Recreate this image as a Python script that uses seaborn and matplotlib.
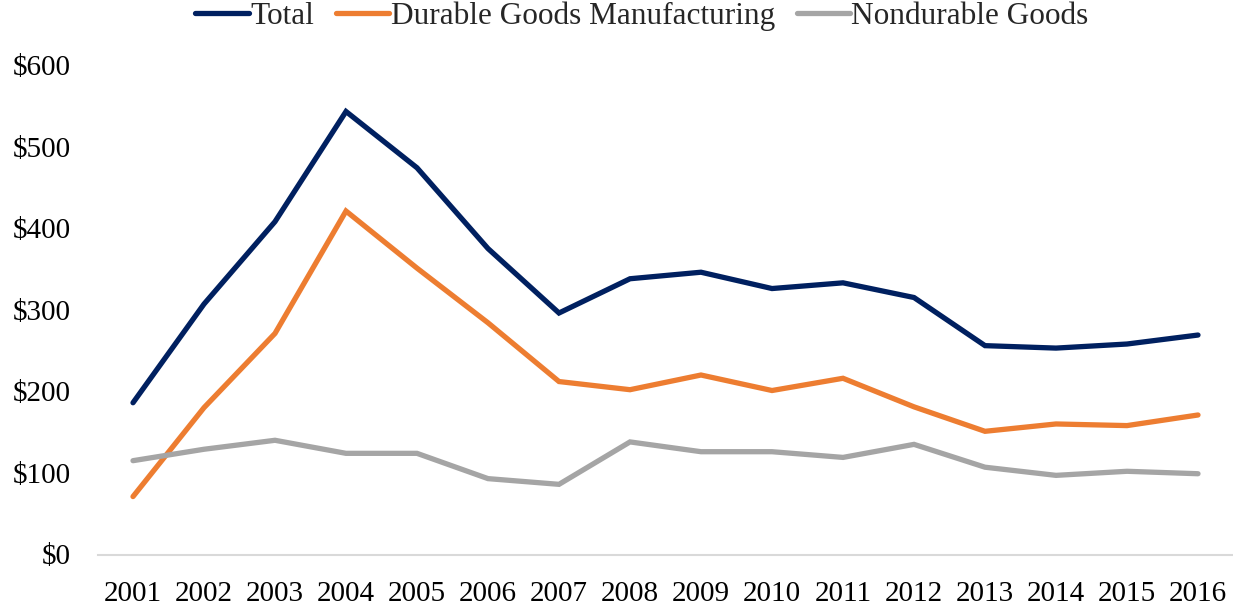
import matplotlib
matplotlib.use("Agg")
import matplotlib.pyplot as plt
import seaborn as sns
import pandas as pd

years = [str(y) for y in range(2001, 2017)]
total = [186, 307, 408, 543, 474, 375, 296, 338, 346, 326, 333, 315, 256, 253, 258, 269]
durable = [71, 180, 271, 421, 351, 284, 212, 202, 220, 201, 216, 181, 151, 160, 158, 171]
nondurable = [115, 129, 140, 124, 124, 93, 86, 138, 126, 126, 119, 135, 107, 97, 102, 99]
series_names = ["Total", "Durable Goods Manufacturing", "Nondurable Goods"]
y_ticks = [0, 100, 200, 300, 400, 500, 600]

frames = []
for name, vals in zip(series_names, [total, durable, nondurable]):
    frames.append(pd.DataFrame({"Year": years, "Value": vals, "Series": name}))
df = pd.concat(frames, ignore_index=True)

sns.set_theme(style="white")
plt.rcParams["font.family"] = ["Liberation Serif", "DejaVu Serif"]

W, H = 1233, 608
fig = plt.figure(figsize=(W / 100, H / 100), dpi=100)
ax = fig.add_axes([97.5 / W, (H - 554.5) / H, 1136 / W, (554.5 - 65) / H])

palette = {"Total": "#002060", "Durable Goods Manufacturing": "#ED7D31",
           "Nondurable Goods": "#A5A5A5"}
lw = 3.8
sns.lineplot(data=df, x="Year", y="Value", hue="Series", palette=palette,
             linewidth=lw, ax=ax, sort=False, legend=True)
for line in ax.get_lines():
    line.set_solid_capstyle("round")
    line.set_solid_joinstyle("miter")

ax.set_xlim(-0.5, 15.5)
ax.set_ylim(0, 600)
ax.set_yticks(y_ticks)
ax.set_yticklabels([f"${v}" for v in y_ticks])
ax.set_xlabel("")
ax.set_ylabel("")
for s in ["top", "right", "left"]:
    ax.spines[s].set_visible(False)
ax.spines["bottom"].set_color("#D9D9D9")
ax.spines["bottom"].set_linewidth(1.5)
ax.tick_params(axis="y", length=0, pad=19, labelsize=21, colors="black")
ax.tick_params(axis="x", length=0, pad=19, labelsize=21, colors="black")
ax.grid(False)

handles, labels = ax.get_legend_handles_labels()
ax.legend_.remove()
for h in handles:
    h.set_linewidth(lw)
    h.set_solid_capstyle("round")
fig.legend(handles, labels, loc="center", bbox_to_anchor=(642 / W, (H - 16) / H),
           ncol=3, frameon=False, fontsize=22.5, handlelength=1.7, handletextpad=0.05,
           columnspacing=0.7, borderaxespad=0, borderpad=0)

fig.savefig("out.png", dpi=100, facecolor="white")
